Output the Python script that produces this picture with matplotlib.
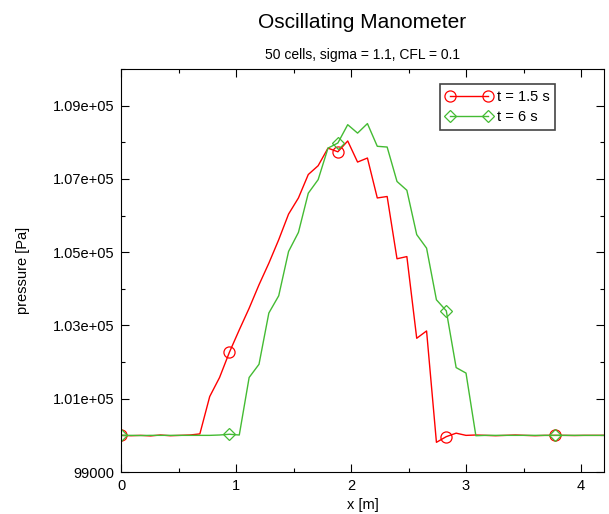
import numpy as np
import matplotlib
matplotlib.use("Agg")
import matplotlib.pyplot as plt

# 50 cells spread over the tube
x = np.linspace(0.0, 4.2, 50)

p_t15 = [100000, 99990, 100000, 99985, 100010, 99990, 100000, 100010, 100040,
         101060, 101580, 102270, 102880, 103470, 104110, 104700, 105340, 106040,
         106480, 107120, 107360, 107840, 107740, 108035, 107460, 107570, 106480,
         106520, 104820, 104880, 102650, 102850, 99810, 99965, 100060, 100000,
         100010, 100000, 99990, 100000, 100010, 100000, 99990, 100000, 100000,
         100000, 99995, 100000, 100000, 100000]

p_t6 = [100000, 100000, 99995, 100000, 100000, 100000, 100000, 100000, 100000,
        100000, 100010, 100030, 100010, 101580, 101940, 103340, 103810, 105020,
        105540, 106610, 106980, 107840, 107980, 108480, 108250, 108510, 107890,
        107870, 106930, 106690, 105480, 105110, 103700, 103400, 101850, 101700,
        99990, 100000, 100000, 100000, 100000, 100000, 100000, 100000, 100000,
        100000, 100000, 100000, 100000, 100000]

yticks = [99000, 101000, 103000, 105000, 107000, 109000]
ytick_labels = ["99000", "1.01e+05", "1.03e+05", "1.05e+05", "1.07e+05", "1.09e+05"]
xticks = [0, 1, 2, 3, 4]

plt.rcParams['font.family'] = ['Liberation Sans', 'DejaVu Sans']

fig = plt.figure(figsize=(6.09, 5.14), dpi=100)
ax = fig.add_axes([121/609, 1 - 472/514, 483/609, 403/514])

ax.plot(x, p_t15, color='#ff0000', lw=1.0, marker='o', markevery=11,
        ms=8, mfc='none', mec='#ff0000', mew=0.9, label='t = 1.5 s')
ax.plot(x, p_t6, color='#44bb33', lw=1.0, marker='D', markevery=11,
        ms=6, mfc='none', mec='#44bb33', mew=0.9, label='t = 6 s')

ax.set_xlim(0, 4.2)
ax.set_ylim(99000, 110000)
ax.set_xticks(xticks)
ax.set_xticks([0.5, 1.5, 2.5, 3.5], minor=True)
ax.set_yticks(yticks)
ax.set_yticklabels(ytick_labels)
ax.set_yticks([100000, 102000, 104000, 106000, 108000, 110000], minor=True)
ax.tick_params(which='both', direction='in', top=True, right=True,
               labelsize=10.5, colors='black', pad=5)
ax.tick_params(which='major', length=6, width=0.8)
ax.tick_params(which='minor', length=3, width=0.8)

ax.set_xlabel("x [m]", fontsize=10.5, labelpad=4)
ax.set_ylabel("pressure [Pa]", fontsize=10.5, labelpad=16)

fig.text(362.5/609, 1 - 22/514, "Oscillating Manometer", ha='center', va='center', fontsize=15)
fig.text(362.5/609, 1 - 55/514, "50 cells, sigma = 1.1, CFL = 0.1", ha='center', va='center', fontsize=10)

leg = ax.legend(loc='upper right', bbox_to_anchor=(0.899, 0.963), numpoints=2,
                fontsize=10.5, fancybox=False, edgecolor='#444444', framealpha=1,
                handlelength=3.2, handletextpad=0.3, borderpad=0.4,
                labelspacing=0.45, borderaxespad=0)
leg.get_frame().set_linewidth(1.2)

plt.savefig("out.png", dpi=100)
plt.close()
